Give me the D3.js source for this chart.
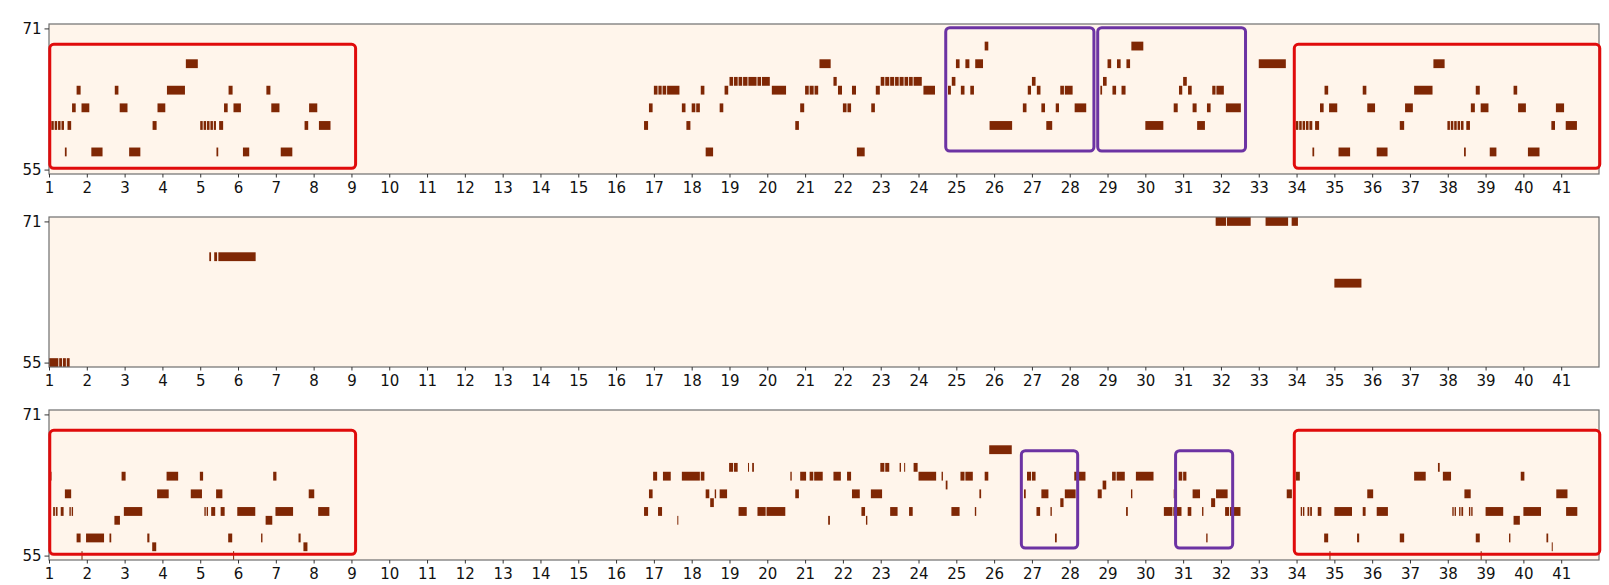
<!DOCTYPE html>
<html>
<head>
<meta charset="utf-8">
<script src="https://cdn.jsdelivr.net/npm/d3@7"></script>
<style>
  body { margin: 0; background: #fff; }
  svg { display: block; }
</style>
</head>
<body>
<div id="chart"></div>
<script>
// bars on the x axis, pitches on the y axis
const barTicks = d3.range(1, 42);
const pitchTicks = [55, 71];

// notes: [pitch, start, end] (in bars)
const topNotes = [
  [69, 25.75, 25.87], [69, 29.63, 29.97],
  [67, 4.62, 4.96], [67, 21.38, 21.70], [67, 24.99, 25.11], [67, 25.24, 25.37], [67, 25.5, 25.73],
  [67, 29.0, 29.12], [67, 29.25, 29.37], [67, 29.5, 29.62], [67, 33.0, 33.74], [67, 37.62, 37.94],
  [65, 19.0, 19.12], [65, 19.12, 19.24], [65, 19.24, 19.36], [65, 19.36, 19.5], [65, 19.5, 19.74],
  [65, 19.74, 19.86], [65, 19.86, 20.09], [65, 21.75, 21.86], [65, 23.0, 23.12], [65, 23.12, 23.25],
  [65, 23.25, 23.38], [65, 23.38, 23.5], [65, 23.5, 23.63], [65, 23.63, 23.75], [65, 23.75, 23.87],
  [65, 23.87, 24.11], [65, 24.88, 25.0], [65, 27.0, 27.12], [65, 28.88, 29.0], [65, 31.0, 31.12],
  [64, 1.73, 1.86], [64, 2.74, 2.86], [64, 4.12, 4.62], [64, 5.75, 5.88], [64, 6.75, 6.88],
  [64, 17.0, 17.12], [64, 17.12, 17.23], [64, 17.23, 17.35], [64, 17.35, 17.7], [64, 18.24, 18.36],
  [64, 18.87, 18.99], [64, 20.12, 20.52], [64, 21.0, 21.12], [64, 21.12, 21.25], [64, 21.25, 21.37],
  [64, 21.87, 22.0], [64, 22.24, 22.37], [64, 22.87, 23.0], [64, 24.13, 24.46], [64, 24.78, 24.88],
  [64, 25.12, 25.24], [64, 25.37, 25.49], [64, 26.89, 27.0], [64, 27.13, 27.25], [64, 27.75, 27.87],
  [64, 27.87, 28.1], [64, 28.81, 28.88], [64, 29.13, 29.25], [64, 29.37, 29.5], [64, 30.89, 31.0],
  [64, 31.13, 31.25], [64, 31.77, 31.88], [64, 31.88, 32.1], [64, 34.74, 34.86], [64, 35.75, 35.87],
  [64, 37.11, 37.62], [64, 38.74, 38.87], [64, 39.74, 39.86],
  [62, 1.61, 1.73], [62, 1.86, 2.09], [62, 2.87, 3.10], [62, 3.87, 4.10], [62, 5.63, 5.75],
  [62, 5.88, 6.10], [62, 6.88, 7.12], [62, 7.88, 8.12], [62, 16.87, 16.99], [62, 17.74, 17.86],
  [62, 18.0, 18.12], [62, 18.12, 18.24], [62, 18.74, 18.86], [62, 20.87, 21.0], [62, 22.0, 22.12],
  [62, 22.12, 22.24], [62, 22.75, 22.87], [62, 26.76, 26.88], [62, 27.25, 27.37], [62, 27.63, 27.74],
  [62, 28.13, 28.46], [62, 30.75, 30.88], [62, 31.25, 31.38], [62, 31.63, 31.75], [62, 32.13, 32.55],
  [62, 34.62, 34.74], [62, 34.86, 35.10], [62, 35.87, 36.10], [62, 36.87, 37.10], [62, 38.61, 38.74],
  [62, 38.87, 39.10], [62, 39.86, 40.09], [62, 40.86, 41.10],
  [60, 1.06, 1.15], [60, 1.15, 1.24], [60, 1.24, 1.33], [60, 1.33, 1.42], [60, 1.49, 1.61],
  [60, 3.74, 3.87], [60, 5.0, 5.09], [60, 5.09, 5.18], [60, 5.18, 5.27], [60, 5.27, 5.36],
  [60, 5.36, 5.44], [60, 5.50, 5.63], [60, 7.76, 7.88], [60, 8.14, 8.47], [60, 16.74, 16.87],
  [60, 17.86, 17.99], [60, 20.74, 20.86], [60, 25.88, 26.5], [60, 27.38, 27.56], [60, 30.0, 30.5],
  [60, 31.37, 31.6], [60, 33.98, 34.07], [60, 34.07, 34.16], [60, 34.16, 34.25], [60, 34.25, 34.34],
  [60, 34.34, 34.44], [60, 34.49, 34.62], [60, 36.73, 36.87], [60, 37.99, 38.08], [60, 38.08, 38.17],
  [60, 38.17, 38.26], [60, 38.26, 38.35], [60, 38.35, 38.44], [60, 38.49, 38.61], [60, 40.74, 40.86],
  [60, 41.12, 41.44],
  [57, 1.42, 1.49], [57, 2.12, 2.44], [57, 3.12, 3.44], [57, 5.43, 5.50], [57, 6.13, 6.32],
  [57, 7.13, 7.46], [57, 18.37, 18.59], [57, 22.37, 22.6], [57, 34.42, 34.49], [57, 35.11, 35.44],
  [57, 36.12, 36.43], [57, 38.43, 38.50], [57, 39.11, 39.31], [57, 40.12, 40.45]
];

const midNotes = [
  [55, 1.0, 1.27], [55, 1.27, 1.37], [55, 1.37, 1.47], [55, 1.47, 1.57],
  [67, 5.24, 5.31], [67, 5.37, 5.47], [67, 5.48, 6.49],
  [71, 31.86, 32.16], [71, 32.16, 32.81], [71, 33.18, 33.8], [71, 33.87, 34.06],
  [64, 35.0, 35.74]
];

const lowNotes = [
  [67, 25.87, 26.49],
  [65, 18.99, 19.12], [65, 19.12, 19.24], [65, 19.49, 19.54], [65, 19.6, 19.67], [65, 22.99, 23.12],
  [65, 23.12, 23.25], [65, 23.5, 23.56], [65, 23.62, 23.67], [65, 23.87, 24.0], [65, 37.74, 37.81],
  [64, 1.0, 1.09], [64, 2.92, 3.05], [64, 4.11, 4.44], [64, 4.99, 5.10], [64, 6.93, 7.04],
  [64, 16.98, 17.11], [64, 17.24, 17.47], [64, 17.74, 18.24], [64, 18.24, 18.36], [64, 20.61, 20.67],
  [64, 20.87, 21.05], [64, 21.12, 21.24], [64, 21.24, 21.49], [64, 21.75, 21.97], [64, 22.11, 22.24],
  [64, 24.0, 24.49], [64, 24.61, 24.67], [64, 25.11, 25.24], [64, 25.24, 25.46], [64, 25.75, 25.87],
  [64, 26.87, 27.0], [64, 27.0, 27.12], [64, 28.12, 28.44], [64, 29.12, 29.24], [64, 29.24, 29.48],
  [64, 29.75, 30.24], [64, 30.88, 31.0], [64, 31.0, 31.11], [64, 33.98, 34.11], [64, 37.11, 37.44],
  [64, 37.87, 38.11], [64, 39.93, 40.05],
  [63, 24.72, 24.79], [63, 28.87, 28.99],
  [62, 1.42, 1.61], [62, 3.86, 4.19], [62, 4.75, 5.07], [62, 5.42, 5.61], [62, 7.87, 8.04],
  [62, 16.87, 16.99], [62, 18.37, 18.49], [62, 18.61, 18.67], [62, 18.74, 18.96], [62, 20.74, 20.86],
  [62, 22.24, 22.47], [62, 22.74, 23.06], [62, 25.61, 25.68], [62, 26.79, 26.86], [62, 27.25, 27.46],
  [62, 27.87, 28.18], [62, 28.74, 28.87], [62, 29.62, 29.68], [62, 30.75, 30.8], [62, 31.25, 31.47],
  [62, 31.87, 32.2], [62, 33.74, 33.9], [62, 35.87, 36.05], [62, 38.44, 38.63], [62, 40.87, 41.19],
  [61, 18.49, 18.61], [61, 27.75, 27.86], [61, 31.74, 31.87],
  [60, 1.11, 1.18], [60, 1.18, 1.25], [60, 1.31, 1.41], [60, 1.54, 1.60], [60, 1.60, 1.66],
  [60, 2.98, 3.49], [60, 5.11, 5.17], [60, 5.17, 5.23], [60, 5.29, 5.42], [60, 5.54, 5.67],
  [60, 5.98, 6.48], [60, 6.99, 7.48], [60, 8.12, 8.44], [60, 16.74, 16.87], [60, 17.11, 17.24],
  [60, 19.24, 19.48], [60, 19.74, 19.98], [60, 19.98, 20.5], [60, 22.49, 22.61], [60, 23.25, 23.47],
  [60, 23.75, 23.87], [60, 24.87, 25.11], [60, 25.49, 25.55], [60, 27.12, 27.24], [60, 27.49, 27.55],
  [60, 29.49, 29.56], [60, 30.49, 30.74], [60, 30.74, 30.98], [60, 31.12, 31.24], [60, 31.5, 31.56],
  [60, 32.11, 32.24], [60, 32.24, 32.54], [60, 34.11, 34.17], [60, 34.17, 34.23], [60, 34.29, 34.36],
  [60, 34.36, 34.43], [60, 34.56, 34.68], [60, 35.0, 35.49], [60, 35.75, 35.85], [60, 36.12, 36.44],
  [60, 38.12, 38.18], [60, 38.18, 38.24], [60, 38.3, 38.36], [60, 38.36, 38.43], [60, 38.56, 38.62],
  [60, 38.62, 38.68], [60, 39.0, 39.49], [60, 40.0, 40.49], [60, 41.13, 41.45],
  [59, 2.73, 2.9], [59, 6.73, 6.93], [59, 17.62, 17.67], [59, 21.61, 21.68], [59, 22.61, 22.67],
  [59, 39.74, 39.93],
  [57, 1.73, 1.86], [57, 1.98, 2.48], [57, 2.6, 2.67], [57, 3.6, 3.68], [57, 5.74, 5.87],
  [57, 6.61, 6.67], [57, 7.6, 7.68], [57, 27.61, 27.68], [57, 31.61, 31.67], [57, 34.73, 34.86],
  [57, 35.6, 35.68], [57, 36.73, 36.87], [57, 38.74, 38.87], [57, 39.62, 39.68], [57, 40.61, 40.68],
  [56, 3.73, 3.86], [56, 7.73, 7.86], [56, 40.75, 40.8],
  [55, 1.86, 1.91], [55, 5.87, 5.92], [55, 34.87, 34.92], [55, 38.87, 38.91]
];

// highlight boxes: [startBar, endBar, topPitch, bottomPitch]
const topRedBoxes = [[1.02, 9.11, 69.2, 55.14], [33.94, 42.02, 69.2, 55.14]];
const topPurpleBoxes = [[24.72, 28.64, 71.08, 57.1], [28.74, 32.65, 71.08, 57.1]];
const midRedBoxes = [];
const midPurpleBoxes = [];
const lowRedBoxes = [[1.02, 9.11, 69.2, 55.14], [33.94, 42.02, 69.2, 55.14]];
const lowPurpleBoxes = [[26.72, 28.21, 66.89, 55.85], [30.80, 32.31, 66.89, 55.85]];

const width = 1609;
const height = 585;
const margin = { left: 49, right: 10 };
const panelTops = [24, 217, 410];
const panelH = 150;

const panels = [
  { notes: topNotes, red: topRedBoxes, purple: topPurpleBoxes },
  { notes: midNotes, red: midRedBoxes, purple: midPurpleBoxes },
  { notes: lowNotes, red: lowRedBoxes, purple: lowPurpleBoxes }
];

const svg = d3.select('#chart')
  .append('svg')
  .attr('width', width)
  .attr('height', height);

const xScale = d3.scaleLinear()
  .domain([1, 42])
  .range([margin.left, width - margin.right]);

panels.forEach((panel, i) => {
  const top = panelTops[i];
  const yScale = d3.scaleLinear()
    .domain([54.5, 71.5])
    .range([top + panelH, top]);

  const g = svg.append('g');

  // background of the roll
  g.append('rect')
    .attr('x', xScale(1))
    .attr('y', top)
    .attr('width', xScale(42) - xScale(1))
    .attr('height', panelH)
    .attr('fill', '#fff5eb');

  g.append('g')
    .selectAll('rect')
    .data(panel.notes)
    .join('rect')
    .attr('x', (d) => xScale(d[1]))
    .attr('y', (d) => yScale(d[0] + 0.5))
    .attr('width', (d) => Math.max(1, xScale(d[2]) - xScale(d[1]) - 0.9))
    .attr('height', (d) => yScale(d[0] - 0.5) - yScale(d[0] + 0.5))
    .attr('fill', '#7f2704');

  // frame
  g.append('rect')
    .attr('x', xScale(1))
    .attr('y', top)
    .attr('width', xScale(42) - xScale(1))
    .attr('height', panelH)
    .attr('fill', 'none')
    .attr('stroke', '#6e6e6e')
    .attr('stroke-width', 1.2);

  const xAxis = d3.axisBottom(xScale)
    .tickValues(barTicks)
    .tickSize(3.5)
    .tickPadding(5)
    .tickFormat(d3.format('d'));

  const yAxis = d3.axisLeft(yScale)
    .tickValues(pitchTicks)
    .tickSize(4.5)
    .tickPadding(3);

  const gx = g.append('g')
    .attr('transform', `translate(0, ${top + panelH})`)
    .call(xAxis);
  const gy = g.append('g')
    .attr('transform', `translate(${xScale(1)}, 0)`)
    .call(yAxis);

  [gx, gy].forEach((ax) => {
    ax.select('.domain').remove();
    ax.attr('font-size', 15).attr('font-family', 'DejaVu Sans');
    ax.selectAll('line').attr('stroke', '#333').attr('stroke-width', 1);
    ax.selectAll('text')
      .attr('fill', '#111')
      .attr('font-size', 15)
      .attr('font-family', 'DejaVu Sans');
  });

  const drawBoxes = (boxes, color) => {
    g.append('g')
      .selectAll('rect')
      .data(boxes)
      .join('rect')
      .attr('x', (d) => xScale(d[0]))
      .attr('y', (d) => yScale(d[2]))
      .attr('width', (d) => xScale(d[1]) - xScale(d[0]))
      .attr('height', (d) => yScale(d[3]) - yScale(d[2]))
      .attr('rx', 4)
      .attr('fill', 'none')
      .attr('stroke', color)
      .attr('stroke-width', 3);
  };
  drawBoxes(panel.red, '#e00b0b');
  drawBoxes(panel.purple, '#6c33a3');
});
</script>
</body>
</html>
